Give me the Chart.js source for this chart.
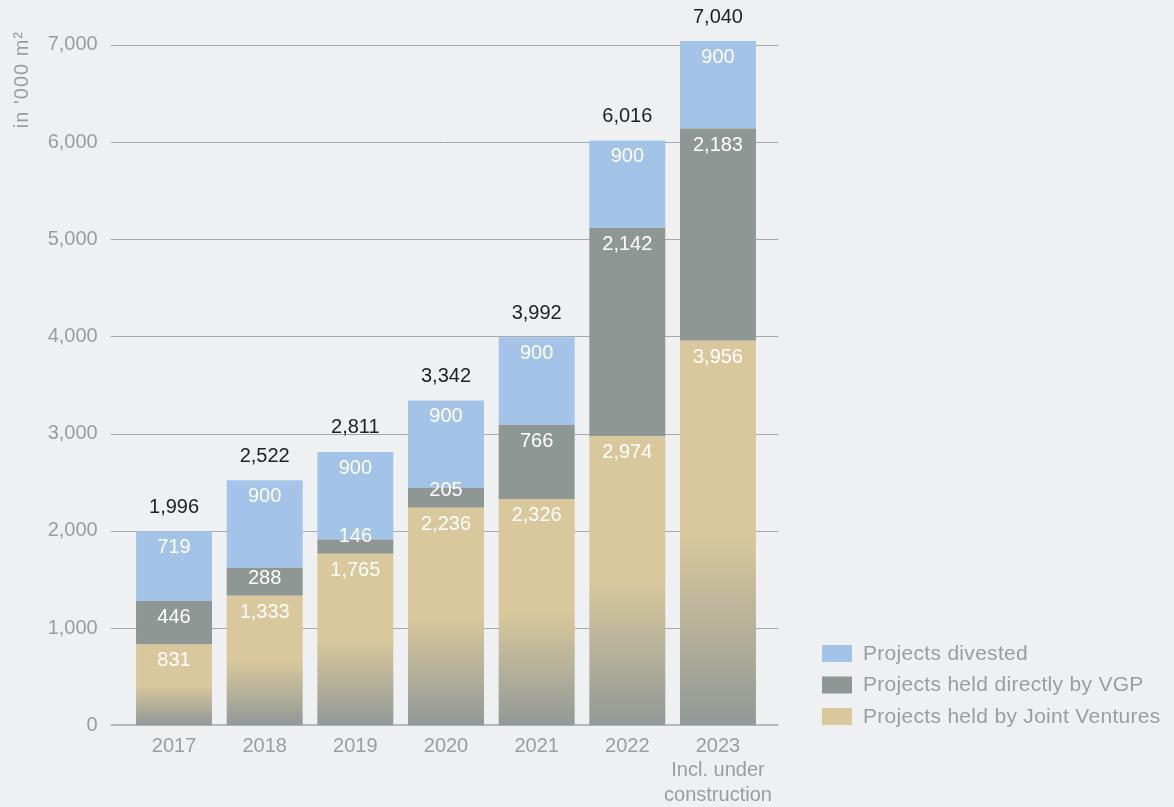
<!DOCTYPE html>
<html>
<head>
<meta charset="utf-8">
<script src="https://cdn.jsdelivr.net/npm/chart.js@4/dist/chart.umd.min.js"></script>
<style>
  html, body { margin: 0; padding: 0; background: #eff0f2; }
  #wrap { width: 1174px; height: 807px; position: relative; }
</style>
</head>
<body>
<div id="wrap"><canvas id="chart"></canvas></div>
<script>
// Lettable area per year, in '000 m2
const years = ['2017', '2018', '2019', '2020', '2021', '2022', ['2023', 'Incl. under', 'construction']];
const jointVentures = [831, 1333, 1765, 2236, 2326, 2974, 3956];
const heldByVgp = [446, 288, 146, 205, 766, 2142, 2183];
const divested = [719, 900, 900, 900, 900, 900, 900];
const totals = [1996, 2522, 2811, 3342, 3992, 6016, 7040];

const BLUE = '#a3c4e8';
const GREY = '#8f9795';
const TAN = '#d9c89c';
const TEXT_GREY = '#979f9e';
const FONT = "'Liberation Sans', Arial, sans-serif";

Chart.defaults.font.family = FONT;
Chart.defaults.font.size = 20;
Chart.defaults.color = TEXT_GREY;

const fmt = v => v.toLocaleString('en-US');

const PLOT_LEFT = 128.7;
const PLOT_RIGHT = 763.3;
const PLOT_BOTTOM = 725.2;

// Joint venture bars fade to grey towards the base
function jvFill(ctx) {
  const chart = ctx.chart;
  if (ctx.type !== 'data' || !chart.chartArea) return TAN;
  const y = chart.scales.y;
  const top = y.getPixelForValue(ctx.raw);
  const bottom = y.getPixelForValue(0);
  if (!isFinite(top) || bottom - top < 1) return TAN;
  const g = chart.ctx.createLinearGradient(0, top, 0, bottom);
  g.addColorStop(0, TAN);
  g.addColorStop(0.5, TAN);
  g.addColorStop(1, '#929997');
  return g;
}

// Horizontal grid, a bit wider than the category band
const gridLines = {
  id: 'gridLines',
  beforeDatasetsDraw(chart) {
    const { ctx, chartArea } = chart;
    const y = chart.scales.y;
    ctx.save();
    y.ticks.forEach(t => {
      const py = Math.round(y.getPixelForValue(t.value));
      ctx.beginPath();
      if (t.value === 0) {
        ctx.lineWidth = 2;
        ctx.strokeStyle = '#b3b8b8';
        ctx.moveTo(chartArea.left - 18, py);
        ctx.lineTo(chartArea.right + 15, py);
      } else {
        ctx.lineWidth = 1;
        ctx.strokeStyle = '#a4a9a9';
        ctx.moveTo(chartArea.left - 18, py + 0.5);
        ctx.lineTo(chartArea.right + 15, py + 0.5);
      }
      ctx.stroke();
    });
    ctx.restore();
  }
};

// Rotated unit caption at the top of the value axis
const unitTitle = {
  id: 'unitTitle',
  afterDraw(chart) {
    const ctx = chart.ctx;
    ctx.save();
    ctx.translate(28, 31);
    ctx.rotate(-Math.PI / 2);
    ctx.font = '20px ' + FONT;
    ctx.letterSpacing = '1px';
    ctx.fillStyle = TEXT_GREY;
    ctx.textAlign = 'right';
    ctx.textBaseline = 'alphabetic';
    ctx.fillText("in '000 m\u00b2", 0, 0);
    ctx.restore();
  }
};

// Segment values inside the bars and stack totals above them
const barLabels = {
  id: 'barLabels',
  afterDatasetsDraw(chart) {
    const ctx = chart.ctx;
    ctx.save();
    ctx.font = '20px ' + FONT;
    ctx.textAlign = 'center';
    ctx.textBaseline = 'middle';
    chart.data.datasets.forEach((ds, di) => {
      const meta = chart.getDatasetMeta(di);
      meta.data.forEach((bar, i) => {
        const top = Math.min(bar.y, bar.base);
        const bottom = Math.max(bar.y, bar.base);
        const cy = Math.min(top + 16.5, bottom - 17);
        ctx.fillStyle = '#ffffff';
        ctx.fillText(fmt(ds.data[i]), bar.x, cy);
      });
    });
    const last = chart.getDatasetMeta(chart.data.datasets.length - 1);
    last.data.forEach((bar, i) => {
      ctx.fillStyle = '#222222';
      ctx.fillText(fmt(totals[i]), bar.x, bar.y - 24);
    });
    ctx.restore();
  }
};

// Legend to the lower right of the plot, top series first
const sideLegend = {
  id: 'sideLegend',
  afterDraw(chart) {
    const { ctx, chartArea } = chart;
    const x = chartArea.right + 58.7;
    let y = chartArea.bottom - 80.2;
    ctx.save();
    ctx.font = '21px ' + FONT;
    ctx.letterSpacing = '0.3px';
    ctx.textAlign = 'left';
    ctx.textBaseline = 'middle';
    chart.data.datasets.slice().reverse().forEach(ds => {
      ctx.fillStyle = ds.legendColor;
      ctx.fillRect(x, y, 30, 17);
      ctx.fillStyle = TEXT_GREY;
      ctx.fillText(ds.label, x + 41, y + 9);
      y += 31.5;
    });
    ctx.restore();
  }
};

new Chart(document.getElementById('chart'), {
  type: 'bar',
  data: {
    labels: years,
    datasets: [
      { label: 'Projects held by Joint Ventures', data: jointVentures, backgroundColor: jvFill, legendColor: TAN },
      { label: 'Projects held directly by VGP', data: heldByVgp, backgroundColor: GREY, legendColor: GREY },
      { label: 'Projects divested', data: divested, backgroundColor: BLUE, legendColor: BLUE }
    ]
  },
  options: {
    responsive: true,
    maintainAspectRatio: false,
    animation: false,
    layout: { padding: { top: 44.8, left: 0, right: 1174 - PLOT_RIGHT, bottom: 0 } },
    datasets: {
      bar: { borderWidth: 0, barPercentage: 0.838, categoryPercentage: 1, clip: false }
    },
    scales: {
      x: {
        stacked: true,
        grid: { display: false, drawTicks: false },
        border: { display: false },
        ticks: { padding: 9, color: TEXT_GREY, maxRotation: 0, autoSkip: false, font: { size: 20, lineHeight: 1.22 } },
        afterFit: s => { s.height = 807 - PLOT_BOTTOM; }
      },
      y: {
        stacked: true,
        min: 0,
        max: 7000,
        grid: { display: false, drawTicks: false },
        border: { display: false },
        ticks: { stepSize: 1000, padding: 31, color: TEXT_GREY, callback: v => fmt(v) },
        afterFit: s => { s.width = PLOT_LEFT; }
      }
    },
    plugins: {
      tooltip: { enabled: false },
      legend: { display: false }
    }
  },
  plugins: [gridLines, barLabels, unitTitle, sideLegend]
});
</script>
</body>
</html>
